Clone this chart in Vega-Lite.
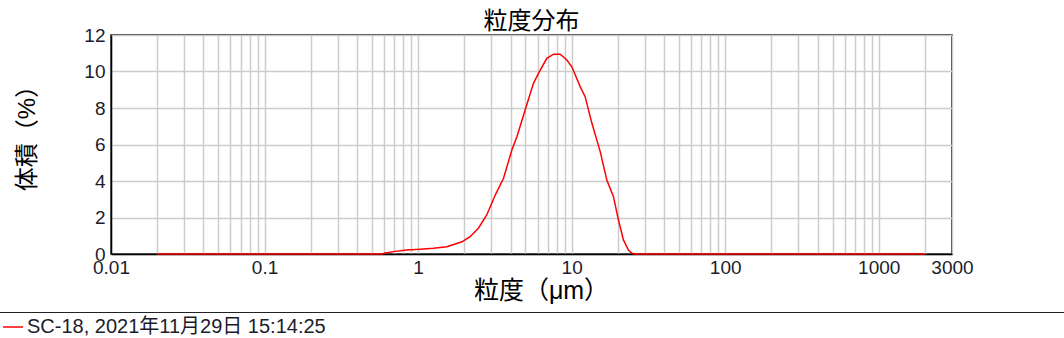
{
  "$schema": "https://vega.github.io/schema/vega-lite/v6.json",
  "width": 841,
  "height": 219,
  "autosize": {"type": "none"},
  "padding": {"left": 111, "top": 35, "right": 112, "bottom": 84},
  "background": "white",
  "config": {
    "font": "Liberation Sans, Noto Sans CJK JP",
    "view": {"stroke": "#000000", "strokeWidth": 1.5}
  },
  "title": {
    "text": "粒度分布",
    "fontSize": 24,
    "fontWeight": "normal",
    "color": "#000000",
    "anchor": "middle",
    "offset": -8,
    "font": "Liberation Sans, Noto Sans CJK JP"
  },
  "data": {
    "values": [
      {"size": 0.02, "volume": 0, "series": "SC-18, 2021年11月29日  15:14:25"},
      {"size": 0.58, "volume": 0, "series": "SC-18, 2021年11月29日  15:14:25"},
      {"size": 0.61, "volume": 0.05, "series": "SC-18, 2021年11月29日  15:14:25"},
      {"size": 0.69, "volume": 0.13, "series": "SC-18, 2021年11月29日  15:14:25"},
      {"size": 0.84, "volume": 0.22, "series": "SC-18, 2021年11月29日  15:14:25"},
      {"size": 1.03, "volume": 0.26, "series": "SC-18, 2021年11月29日  15:14:25"},
      {"size": 1.26, "volume": 0.31, "series": "SC-18, 2021年11月29日  15:14:25"},
      {"size": 1.54, "volume": 0.4, "series": "SC-18, 2021年11月29日  15:14:25"},
      {"size": 1.93, "volume": 0.67, "series": "SC-18, 2021年11月29日  15:14:25"},
      {"size": 2.18, "volume": 0.95, "series": "SC-18, 2021年11月29日  15:14:25"},
      {"size": 2.47, "volume": 1.41, "series": "SC-18, 2021年11月29日  15:14:25"},
      {"size": 2.8, "volume": 2.14, "series": "SC-18, 2021年11月29日  15:14:25"},
      {"size": 3.18, "volume": 3.23, "series": "SC-18, 2021年11月29日  15:14:25"},
      {"size": 3.6, "volume": 4.15, "series": "SC-18, 2021年11月29日  15:14:25"},
      {"size": 4.08, "volume": 5.7, "series": "SC-18, 2021年11月29日  15:14:25"},
      {"size": 4.4, "volume": 6.43, "series": "SC-18, 2021年11月29日  15:14:25"},
      {"size": 4.98, "volume": 7.89, "series": "SC-18, 2021年11月29日  15:14:25"},
      {"size": 5.64, "volume": 9.35, "series": "SC-18, 2021年11月29日  15:14:25"},
      {"size": 6.08, "volume": 9.9, "series": "SC-18, 2021年11月29日  15:14:25"},
      {"size": 6.89, "volume": 10.72, "series": "SC-18, 2021年11月29日  15:14:25"},
      {"size": 7.62, "volume": 10.95, "series": "SC-18, 2021年11月29日  15:14:25"},
      {"size": 8.41, "volume": 10.95, "series": "SC-18, 2021年11月29日  15:14:25"},
      {"size": 9.31, "volume": 10.63, "series": "SC-18, 2021年11月29日  15:14:25"},
      {"size": 10.03, "volume": 10.26, "series": "SC-18, 2021年11月29日  15:14:25"},
      {"size": 11.36, "volume": 9.17, "series": "SC-18, 2021年11月29日  15:14:25"},
      {"size": 12.24, "volume": 8.62, "series": "SC-18, 2021年11月29日  15:14:25"},
      {"size": 13.55, "volume": 7.16, "series": "SC-18, 2021年11月29日  15:14:25"},
      {"size": 15.35, "volume": 5.61, "series": "SC-18, 2021年11月29日  15:14:25"},
      {"size": 16.95, "volume": 4.05, "series": "SC-18, 2021年11月29日  15:14:25"},
      {"size": 18.72, "volume": 3.14, "series": "SC-18, 2021年11月29日  15:14:25"},
      {"size": 20.18, "volume": 1.86, "series": "SC-18, 2021年11月29日  15:14:25"},
      {"size": 21.74, "volume": 0.77, "series": "SC-18, 2021年11月29日  15:14:25"},
      {"size": 23.44, "volume": 0.22, "series": "SC-18, 2021年11月29日  15:14:25"},
      {"size": 24.66, "volume": 0.04, "series": "SC-18, 2021年11月29日  15:14:25"},
      {"size": 26, "volume": 0, "series": "SC-18, 2021年11月29日  15:14:25"},
      {"size": 2000, "volume": 0, "series": "SC-18, 2021年11月29日  15:14:25"}
    ]
  },
  "mark": {"type": "line", "strokeWidth": 1.5},
  "encoding": {
    "x": {
      "field": "size",
      "type": "quantitative",
      "scale": {"type": "log", "domain": [0.01, 3000], "nice": false},
      "axis": {
        "values": [0.01, 0.02, 0.03, 0.04, 0.05, 0.06, 0.07, 0.08, 0.09, 0.1, 0.2, 0.3, 0.4, 0.5, 0.6, 0.7, 0.8, 0.9, 1, 2, 3, 4, 5, 6, 7, 8, 9, 10, 20, 30, 40, 50, 60, 70, 80, 90, 100, 200, 300, 400, 500, 600, 700, 800, 900, 1000, 2000, 3000],
        "labelExpr": "indexof([0.01, 0.1, 1, 10, 100, 1000, 3000], datum.value) >= 0 ? '' + datum.value : ''",
        "labelOverlap": false,
        "labelFlush": false,
        "labelFontSize": 19,
        "labelColor": "#1c1c2c",
        "labelPadding": 4,
        "ticks": false,
        "domainColor": "#000000",
        "domainWidth": 1.5,
        "gridColor": "#cccccc",
        "gridWidth": 1.5,
        "title": "粒度（μm）",
        "titleFontSize": 25,
        "titleFontWeight": "normal",
        "titleColor": "#000000",
        "titlePadding": 1,
        "titleX": 430
      }
    },
    "y": {
      "field": "volume",
      "type": "quantitative",
      "scale": {"domain": [0, 12], "nice": false},
      "axis": {
        "values": [0, 2, 4, 6, 8, 10, 12],
        "labelFontSize": 19,
        "labelColor": "#1c1c2c",
        "labelPadding": 6,
        "ticks": false,
        "domainColor": "#000000",
        "domainWidth": 1.5,
        "gridColor": "#cccccc",
        "gridWidth": 1.5,
        "title": "体積（%）",
        "titleFontSize": 24,
        "titleFontWeight": "normal",
        "titleColor": "#000000",
        "titlePadding": 44,
        "titleY": 97
      }
    },
    "color": {
      "field": "series",
      "type": "nominal",
      "scale": {"range": ["#ff0000"]},
      "legend": {
        "orient": "none",
        "legendX": -113,
        "legendY": 277,
        "title": null,
        "symbolType": "stroke",
        "symbolSize": 400,
        "symbolStrokeWidth": 1.5,
        "labelFontSize": 20,
        "labelColor": "#1c1c2c",
        "labelLimit": 3000,
        "labelOffset": 3,
        "labelExpr": "pad(datum.label, 159, '\u00a0') + '\u200b'",
        "strokeColor": "#222222",
        "fillColor": "white",
        "padding": 4
      }
    }
  }
}
